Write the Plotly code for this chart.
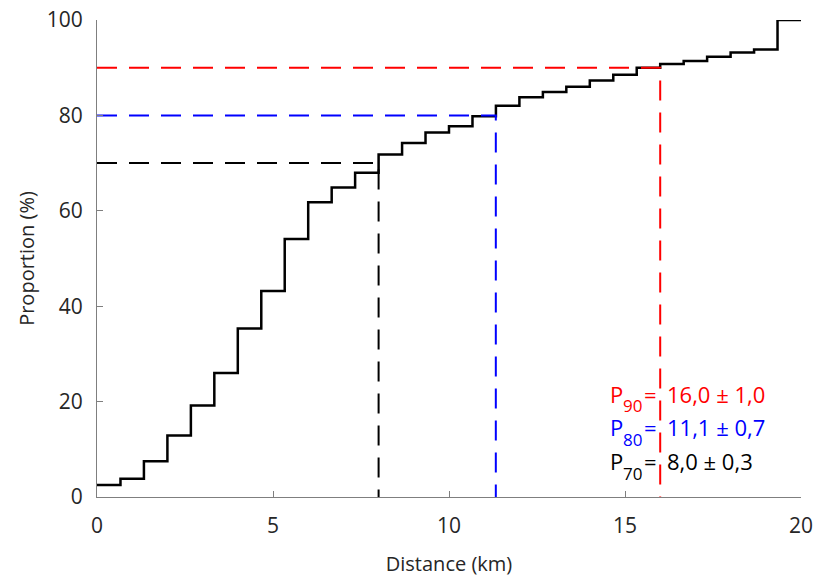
import plotly.graph_objects as go

# Bin edges (km) of the cumulative distribution
edges_km = [0, 0.667, 1.333, 2.0, 2.667, 3.333, 4.0, 4.667, 5.333, 6.0,
            6.667, 7.333, 8.0, 8.667, 9.333, 10.0, 10.667, 11.333, 12.0, 12.667,
            13.333, 14.0, 14.667, 15.333, 16.0, 16.667, 17.333, 18.0, 18.667, 19.333, 20.0]
# Cumulative proportion (%) in each bin
proportion = [2.5, 3.8, 7.5, 12.9, 19.2, 26.0, 35.3, 43.2, 54.1, 61.8,
              64.9, 68.0, 71.8, 74.2, 76.4, 77.7, 79.8, 82.0, 83.8, 84.9,
              86.0, 87.3, 88.5, 90.0, 90.8, 91.4, 92.3, 93.2, 93.8, 100.0]

# Percentile markers
pct_levels = [90, 80, 70]
pct_distance = [16.0, 11.33, 8.0]
pct_colors = ["#ff0000", "#0000ff", "#000000"]
pct_subs = ["90", "80", "70"]
pct_values = ["16,0 ± 1,0", "11,1 ± 0,7", "8,0 ± 0,3"]
label_y = [21.6, 14.6, 7.5]

FONT = "Open Sans"

fig = go.Figure()

step_y = proportion + [proportion[-1]]
fig.add_trace(go.Scatter(x=edges_km, y=step_y, mode="lines",
                         line=dict(shape="hv", color="black", width=2.5),
                         showlegend=False, hoverinfo="skip"))

for lvl, d, c in zip(pct_levels, pct_distance, pct_colors):
    fig.add_trace(go.Scatter(x=[0, d, d], y=[lvl, lvl, 0], mode="lines",
                             line=dict(color=c, width=2, dash="20px,12px"),
                             showlegend=False, hoverinfo="skip"))

for sub, val, yv, c in zip(pct_subs, pct_values, label_y, pct_colors):
    common = dict(xref="x", yref="y", showarrow=False, xanchor="left", yanchor="middle")
    fig.add_annotation(x=14.51, y=yv, text="P", font=dict(family=FONT, size=22, color=c), **common)
    fig.add_annotation(x=14.89, y=yv - 2.5, text=sub, font=dict(family=FONT, size=17, color=c), **common)
    fig.add_annotation(x=15.47, y=yv, text="=", font=dict(family=FONT, size=22, color=c), **common)
    fig.add_annotation(x=16.13, y=yv, text=val, font=dict(family=FONT, size=22, color=c), **common)

axis_common = dict(showline=True, linecolor="#7f7f7f", linewidth=1.2,
                   ticks="inside", ticklen=6, tickcolor="#7f7f7f",
                   showgrid=False, zeroline=False, mirror=False, automargin=False,
                   tickfont=dict(family=FONT, size=21, color="#262626"))

fig.update_xaxes(range=[0, 20], tickvals=[0, 5, 10, 15, 20], ticklabelstandoff=10,
                 title=dict(text="Distance (km)", font=dict(family=FONT, size=20, color="#262626"), standoff=18),
                 **axis_common)
fig.update_yaxes(range=[0, 100], tickvals=[0, 20, 40, 60, 80, 100], ticklabelstandoff=9,
                 title=dict(text="Proportion (%)", font=dict(family=FONT, size=20, color="#262626"), standoff=6),
                 **axis_common)

fig.update_layout(width=816, height=581,
                  margin=dict(l=97, r=15, t=20, b=84),
                  plot_bgcolor="white", paper_bgcolor="white")

fig.write_html("out.html")
